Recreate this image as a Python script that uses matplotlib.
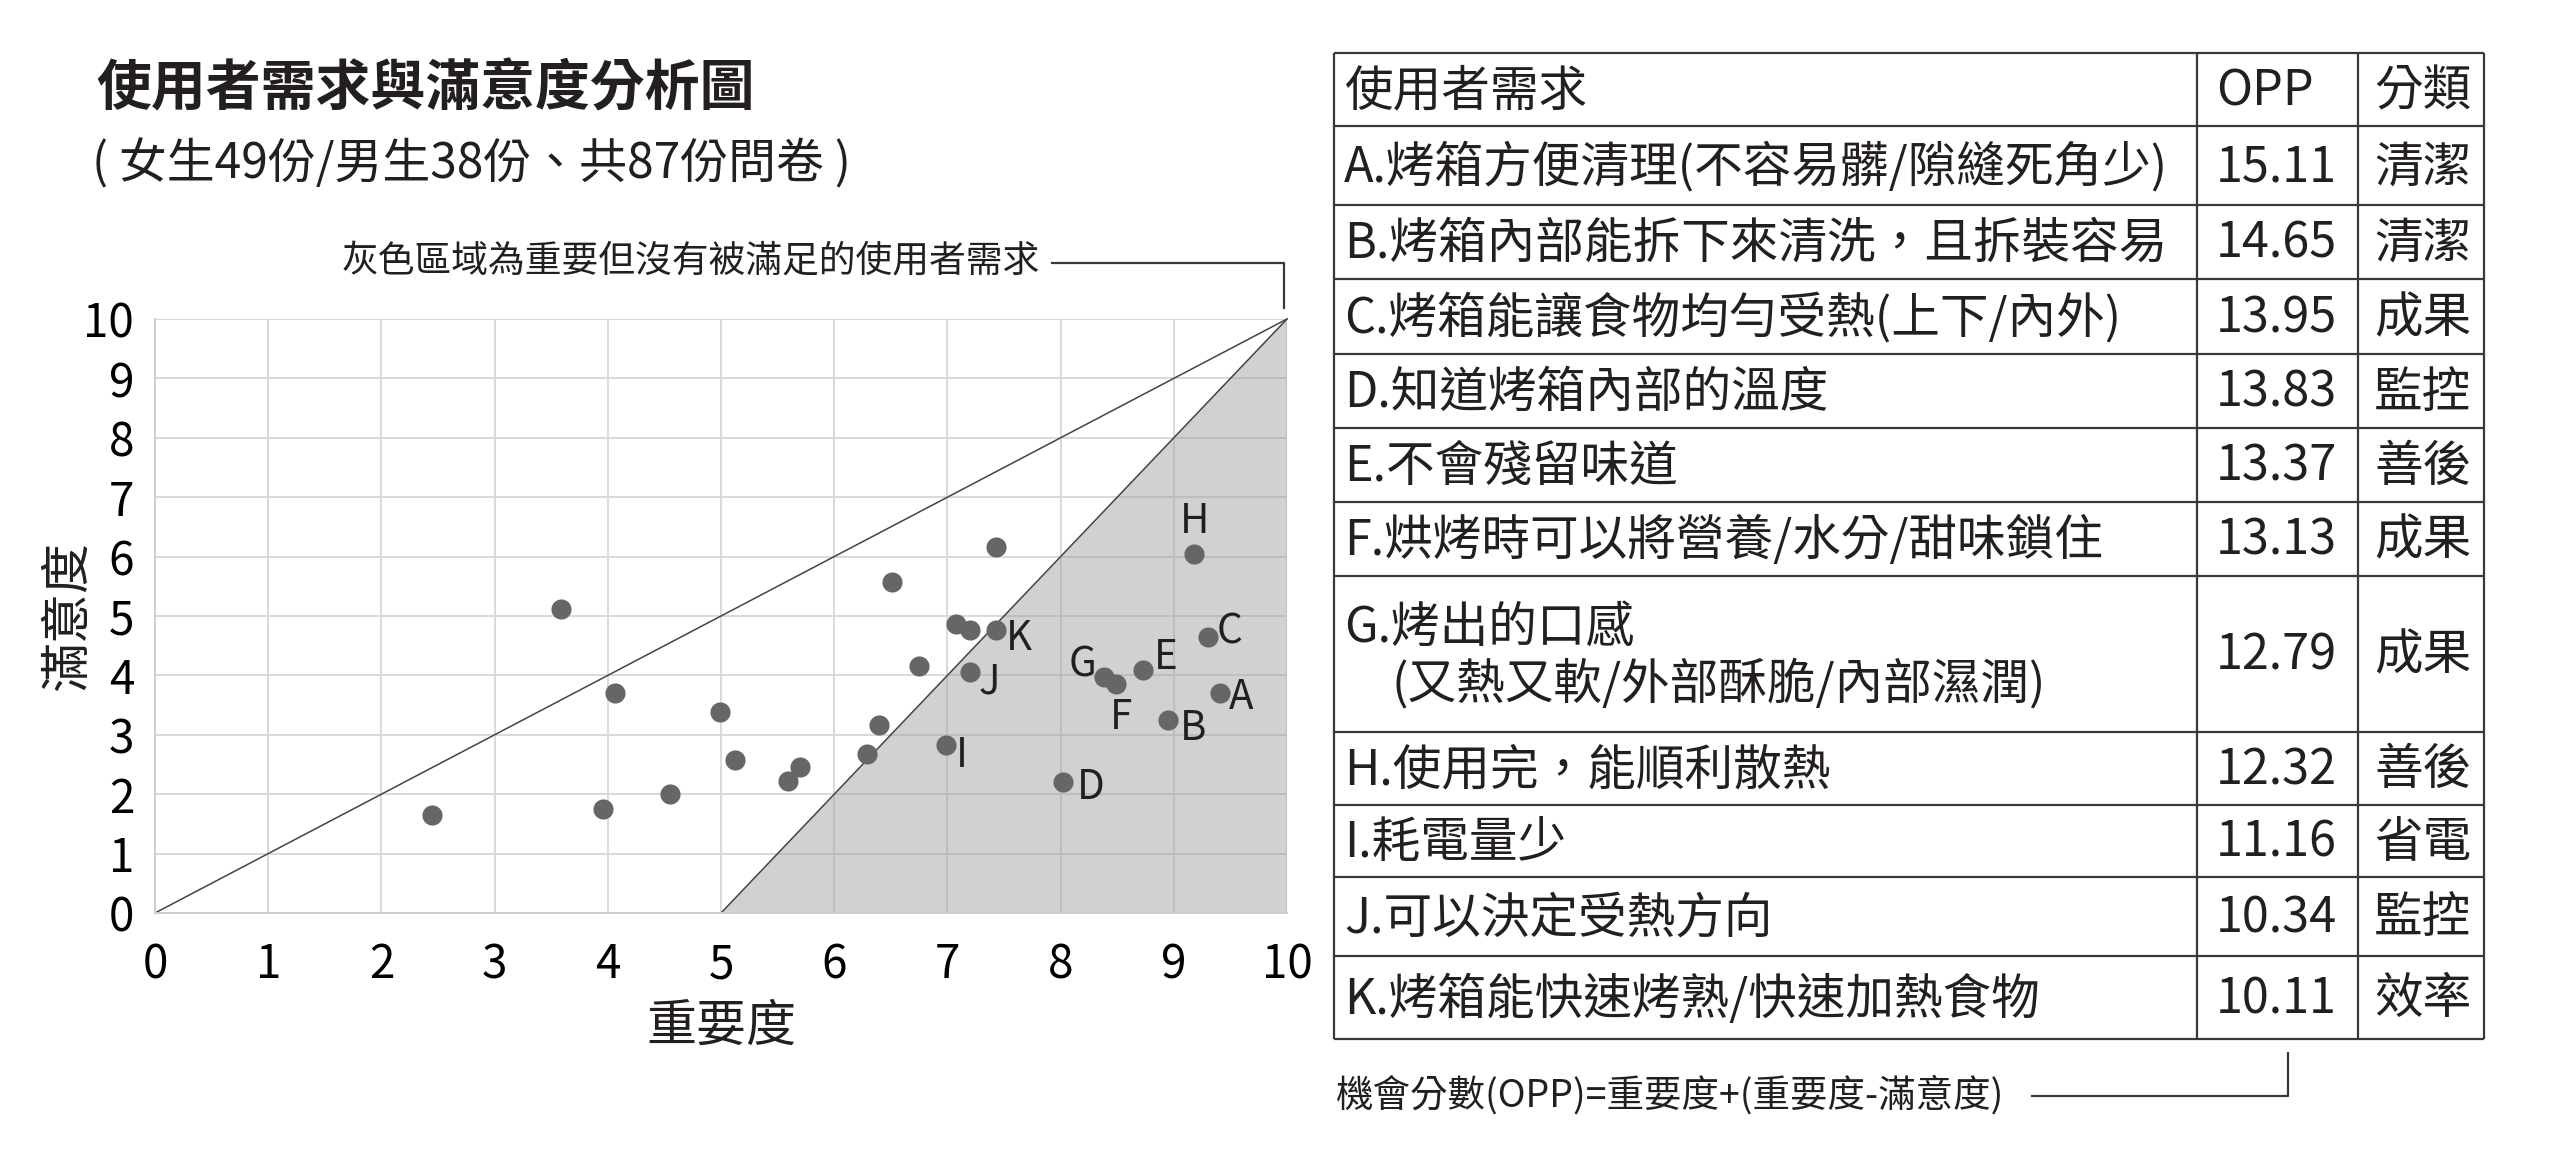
import matplotlib
matplotlib.use('Agg')
import matplotlib.pyplot as plt

plt.rcParams['font.family'] = ['Noto Sans CJK TC', 'DejaVu Sans']

# ---------------- data ----------------
point_labels = ['A', 'B', 'C', 'D', 'E', 'F', 'G', 'H', 'I', 'J', 'K']
imp_labeled = [9.41, 8.95, 9.30, 8.02, 8.73, 8.49, 8.38, 9.18, 6.99, 7.20, 7.43]
sat_labeled = [3.71, 3.25, 4.65, 2.21, 4.09, 3.85, 3.97, 6.04, 2.82, 4.06, 4.76]

imp_other = [2.45, 3.59, 3.96, 4.06, 4.55, 4.99, 5.12, 5.59, 5.70, 6.29, 6.40, 6.51, 6.75, 7.08, 7.20, 7.43]
sat_other = [1.65, 5.11, 1.75, 3.71, 2.00, 3.38, 2.58, 2.23, 2.45, 2.68, 3.17, 5.57, 4.15, 4.87, 4.76, 6.16]

diag_x = [0, 10]
diag_y = [0, 10]
opp_line_x = [5, 10]
opp_line_y = [0, 10]
gray_x = [5, 10, 10]
gray_y = [0, 0, 10]

ticks = list(range(0, 11))

needs = ['A.烤箱方便清理(不容易髒/隙縫死角少)',
         'B.烤箱內部能拆下來清洗，且拆裝容易',
         'C.烤箱能讓食物均勻受熱(上下/內外)',
         'D.知道烤箱內部的溫度',
         'E.不會殘留味道',
         'F.烘烤時可以將營養/水分/甜味鎖住',
         ['G.烤出的口感', '(又熱又軟/外部酥脆/內部濕潤)'],
         'H.使用完，能順利散熱',
         'I.耗電量少',
         'J.可以決定受熱方向',
         'K.烤箱能快速烤熟/快速加熱食物']
opp_values = [15.11, 14.65, 13.95, 13.83, 13.37, 13.13, 12.79, 12.32, 11.16, 10.34, 10.11]
categories = ['清潔', '清潔', '成果', '監控', '善後', '成果', '成果', '善後', '省電', '監控', '效率']
header = ['使用者需求', 'OPP', '分類']

title = '使用者需求與滿意度分析圖'
subtitle = '( 女生49份/男生38份、共87份問卷 )'
note_gray = '灰色區域為重要但沒有被滿足的使用者需求'
note_opp = '機會分數(OPP)=重要度+(重要度-滿意度)'

# ---------------- styles / layout ----------------
W, H = 2560, 1154
TEXT = '#231f20'
LINE = '#3d3737'
POINT = '#666666'
GRID = '#d9d9d9'

# label placement: (dx pt, dy pt, ha, va)
label_style = {
    'A': (6.5, 0, 'left', 'center_baseline'),
    'B': (8.5, -3, 'left', 'center_baseline'),
    'C': (6.5, 7, 'left', 'center_baseline'),
    'D': (10, -1, 'left', 'center_baseline'),
    'E': (8, 12, 'left', 'center_baseline'),
    'F': (3.5, -9, 'center', 'top'),
    'G': (-5, 12, 'right', 'center_baseline'),
    'H': (0, 9, 'center', 'bottom'),
    'I': (7, -4, 'left', 'center_baseline'),
    'J': (6.5, -4, 'left', 'center_baseline'),
    'K': (7, -3, 'left', 'center_baseline'),
}

fig = plt.figure(figsize=(W / 100, H / 100), dpi=100)
fig.patch.set_facecolor('white')

# overlay axes in pixel coordinates for table / annotations
ov = fig.add_axes([0, 0, 1, 1])
ov.set_xlim(0, W)
ov.set_ylim(H, 0)
ov.axis('off')

# ---------------- scatter chart ----------------
ax_l, ax_r, ax_t, ax_b = 155, 1287, 319, 913
ax = fig.add_axes([ax_l / W, 1 - ax_b / H, (ax_r - ax_l) / W, (ax_b - ax_t) / H])
ax.set_xlim(0, 10)
ax.set_ylim(0, 10)
ax.set_xticks(ticks)
ax.set_yticks(ticks)
ax.grid(True, color=GRID, linewidth=1.4, zorder=0)
ax.set_axisbelow(True)
for s in ['top', 'right']:
    ax.spines[s].set_visible(False)
for s in ['left', 'bottom']:
    ax.spines[s].set_color('#cfcfcf')
    ax.spines[s].set_linewidth(1.4)
ax.tick_params(length=0, labelsize=33, colors='black')
ax.tick_params(axis='x', pad=20)
ax.tick_params(axis='y', pad=15)

ax.fill(gray_x, gray_y, color='#9c9c9c', alpha=0.46, linewidth=0, zorder=1)
ax.plot(diag_x, diag_y, color='#444444', linewidth=1.1, zorder=2, clip_on=False)
ax.plot(opp_line_x, opp_line_y, color='#444444', linewidth=1.1, zorder=2, clip_on=False)

ax.scatter(imp_other, sat_other, s=210, color=POINT, linewidths=0, zorder=3)
ax.scatter(imp_labeled, sat_labeled, s=210, color=POINT, linewidths=0, zorder=3)
for lab, x, y in zip(point_labels, imp_labeled, sat_labeled):
    dx, dy, ha, va = label_style[lab]
    ax.annotate(lab, (x, y), xytext=(dx, dy), textcoords='offset points',
                ha=ha, va=va, fontsize=29, color=TEXT, zorder=4)

fig.text(721 / W, 1 - 1027 / H, '重要度', ha='center', va='center', fontsize=36, color=TEXT)
fig.text(68 / W, 1 - 616 / H, '滿意度', ha='center', va='center', rotation=90, fontsize=36, color=TEXT)

# ---------------- titles / notes ----------------
ov.text(96, 89, title, ha='left', va='center', fontsize=39.5, fontweight='bold', color=TEXT)
ov.text(92, 164, subtitle, ha='left', va='center', fontsize=34.5, color=TEXT)
ov.text(1040, 262, note_gray, ha='right', va='center', fontsize=26.5, color=TEXT)
ov.plot([1052, 1284, 1284], [263, 263, 308], color=LINE, linewidth=1.6)

# ---------------- table ----------------
row_edges = [53, 126, 205, 279, 354, 428, 502, 576, 732, 805, 877, 956, 1039]
col_edges = [1334, 2197, 2358, 2484]
text_x = [1344, 2216, 2374]
FS = 35

for y in row_edges:
    ov.plot([col_edges[0], col_edges[-1]], [y, y], color=LINE, linewidth=1.6, solid_capstyle='butt')
for x in col_edges:
    ov.plot([x, x], [row_edges[0], row_edges[-1]], color=LINE, linewidth=1.6, solid_capstyle='butt')

yc = (row_edges[0] + row_edges[1]) / 2
for tx, h in zip(text_x, header):
    ov.text(tx, yc + 2, h, ha='left', va='center', fontsize=FS, color=TEXT)

for i, (need, opp, cat) in enumerate(zip(needs, opp_values, categories)):
    top, bot = row_edges[i + 1], row_edges[i + 2]
    yc = (top + bot) / 2 + 2
    if isinstance(need, list):
        ov.text(text_x[0], yc - 28, need[0], ha='left', va='center', fontsize=FS, color=TEXT)
        ov.text(text_x[0] + 47, yc + 28, need[1], ha='left', va='center', fontsize=FS, color=TEXT)
    else:
        ov.text(text_x[0], yc, need, ha='left', va='center', fontsize=FS, color=TEXT)
    ov.text(text_x[1], yc, f'{opp:.2f}', ha='left', va='center', fontsize=FS, color=TEXT)
    ov.text(text_x[2], yc, cat, ha='left', va='center', fontsize=FS, color=TEXT)

ov.text(1336, 1096, note_opp, ha='left', va='center', fontsize=27, color=TEXT)
ov.plot([2032, 2288, 2288], [1096, 1096, 1053], color=LINE, linewidth=1.6)

fig.savefig('out.png', dpi=100, facecolor='white')
